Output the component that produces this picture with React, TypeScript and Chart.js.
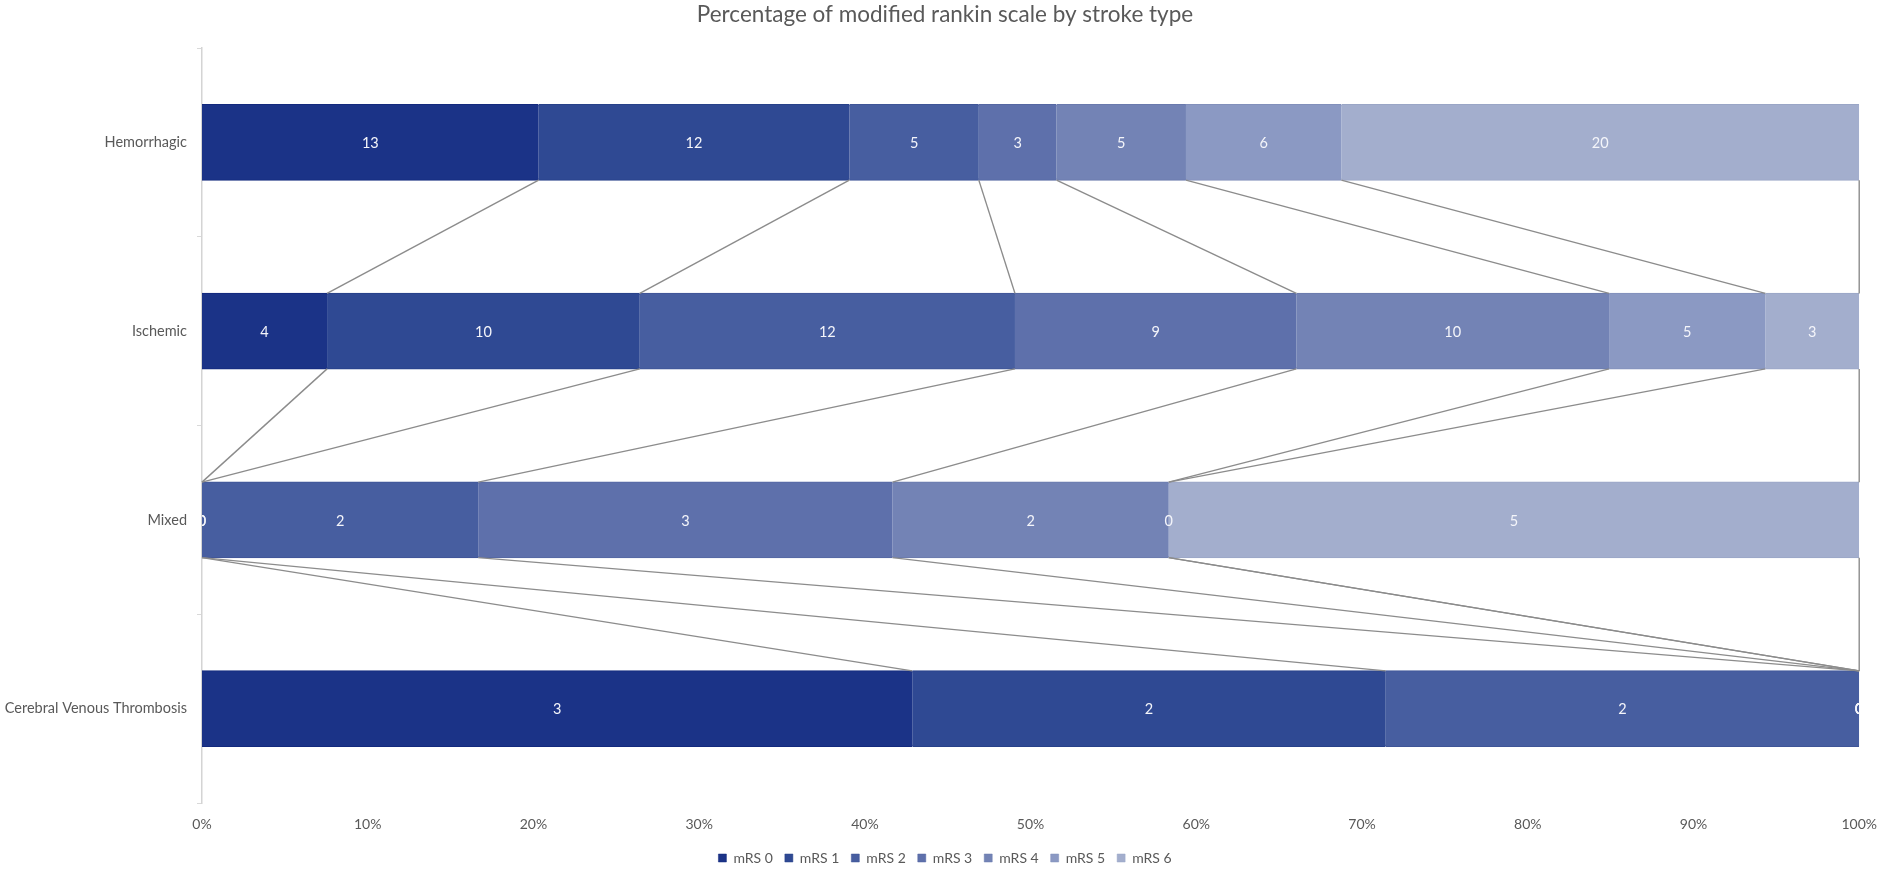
import { useEffect, useRef } from 'react';
import { Chart, registerables } from 'chart.js';

Chart.register(...registerables);

const strokeTypes = ['Hemorrhagic', 'Ischemic', 'Mixed', 'Cerebral Venous Thrombosis'];
const mrsLabels = ['mRS 0', 'mRS 1', 'mRS 2', 'mRS 3', 'mRS 4', 'mRS 5', 'mRS 6'];

// patient counts per stroke type (Hemorrhagic, Ischemic, Mixed, CVT)
const mrs0 = [13, 4, 0, 3];
const mrs1 = [12, 10, 0, 2];
const mrs2 = [5, 12, 2, 2];
const mrs3 = [3, 9, 3, 0];
const mrs4 = [5, 10, 2, 0];
const mrs5 = [6, 5, 0, 0];
const mrs6 = [20, 3, 5, 0];

const counts = [mrs0, mrs1, mrs2, mrs3, mrs4, mrs5, mrs6];

const fills = ['#1b3387', '#2f4993', '#475ea0', '#5e70ab', '#7383b5', '#8b99c3', '#a3aecd'];
const edges = ['#13297d', '#274189', '#3f5597', '#5567a2', '#6a7aad', '#8290bb', '#9aa6c6'];

const font = 'Lato';
const grey = '#595959';

// gray connector lines between the ends of each segment (Excel "series lines")
const seriesLines = {
  id: 'seriesLines',
  afterDatasetsDraw(chart) {
    const ctx = chart.ctx;
    ctx.save();
    ctx.strokeStyle = '#8c8c8c';
    ctx.lineWidth = 1.4;
    chart.data.datasets.forEach((ds, d) => {
      const bars = chart.getDatasetMeta(d).data;
      for (let i = 0; i < bars.length - 1; i++) {
        const a = bars[i].getProps(['x', 'y', 'height'], true);
        const b = bars[i + 1].getProps(['x', 'y', 'height'], true);
        ctx.beginPath();
        ctx.moveTo(a.x, a.y + a.height / 2);
        ctx.lineTo(b.x, b.y - b.height / 2);
        ctx.stroke();
      }
    });
    ctx.restore();
  },
};

// count labels centred in every segment, clipped to the plot area
const barLabels = {
  id: 'barLabels',
  afterDatasetsDraw(chart) {
    const { ctx, chartArea } = chart;
    ctx.save();
    ctx.beginPath();
    ctx.rect(chartArea.left, chartArea.top, chartArea.right - chartArea.left, chartArea.bottom - chartArea.top);
    ctx.clip();
    ctx.fillStyle = '#f4f5fa';
    ctx.font = `14.5px ${font}`;
    ctx.textAlign = 'center';
    ctx.textBaseline = 'middle';
    chart.data.datasets.forEach((ds, d) => {
      chart.getDatasetMeta(d).data.forEach((bar, i) => {
        const p = bar.getProps(['x', 'y', 'base'], true);
        ctx.fillText(String(ds.counts[i]), (p.x + p.base) / 2, p.y + 1);
      });
    });
    ctx.restore();
  },
};

const App = () => {
  const chartRef = useRef(null);
  const chartInstance = useRef(null);

  useEffect(() => {
    if (!chartRef.current) return;
    if (chartInstance.current) chartInstance.current.destroy();

    const totals = strokeTypes.map((_, i) => counts.reduce((s, c) => s + c[i], 0));

    chartInstance.current = new Chart(chartRef.current.getContext('2d'), {
      type: 'bar',
      data: {
        labels: strokeTypes,
        datasets: counts.map((c, d) => ({
          label: mrsLabels[d],
          counts: c,
          data: c.map((v, i) => (v / totals[i]) * 100),
          backgroundColor: fills[d],
          borderColor: edges[d],
          borderWidth: { top: 1, bottom: 1, left: 0, right: 0 },
          borderSkipped: false,
          inflateAmount: 0.6,
          barPercentage: 0.4,
          categoryPercentage: 1,
        })),
      },
      options: {
        indexAxis: 'y',
        responsive: true,
        maintainAspectRatio: false,
        animation: false,
        layout: { padding: { left: 0, right: 0, top: 0, bottom: -6 } },
        plugins: {
          title: {
            display: true,
            text: 'Percentage of modified rankin scale by stroke type',
            color: grey,
            font: { family: font, size: 22.5, weight: 'normal' },
            padding: { top: 1, bottom: 20 },
          },
          legend: {
            position: 'bottom',
            labels: {
              color: grey,
              font: { family: font, size: 14 },
              boxWidth: 8,
              boxHeight: 8,
              padding: 12,
            },
          },
          tooltip: { enabled: false },
        },
        scales: {
          x: {
            type: 'linear',
            stacked: true,
            min: 0,
            max: 100,
            grid: { display: false, drawTicks: false },
            border: { display: false },
            ticks: {
              stepSize: 10,
              color: grey,
              font: { family: font, size: 14 },
              padding: 13,
              callback: (v) => v + '%',
            },
            afterFit: (scale) => {
              scale.height = 36;
            },
          },
          y: {
            type: 'category',
            stacked: true,
            offset: true,
            grid: {
              display: true,
              offset: true,
              drawOnChartArea: false,
              drawTicks: true,
              tickLength: 5,
              color: '#d9d9d9',
            },
            border: { display: true, color: '#d4d4d4', width: 1.5 },
            ticks: {
              color: grey,
              font: { family: font, size: 14.5 },
              padding: 10,
            },
            afterFit: (scale) => {
              scale.width = 202;
            },
          },
          // empty right-hand strip so the plot ends at 100% while title and legend stay centred on the page
          yRight: {
            type: 'category',
            position: 'right',
            offset: true,
            grid: { display: false, drawTicks: false },
            border: { display: false },
            ticks: { display: false },
            afterFit: (scale) => {
              scale.width = 26;
            },
          },
        },
      },
      plugins: [seriesLines, barLabels],
    });

    return () => {
      if (chartInstance.current) {
        chartInstance.current.destroy();
        chartInstance.current = null;
      }
    };
  }, []);

  return (
    <div style={{ position: 'fixed', left: 0, top: 0, width: 1890, height: 869, background: '#fff' }}>
      <canvas ref={chartRef} />
    </div>
  );
};

export default App;
